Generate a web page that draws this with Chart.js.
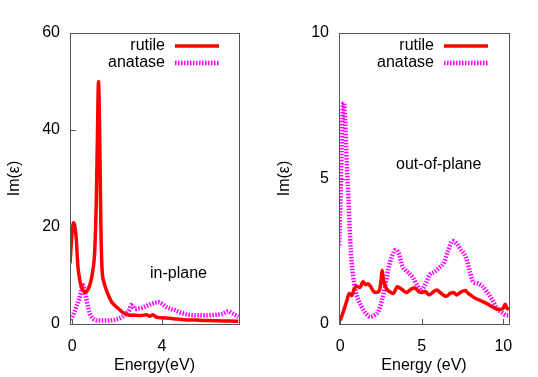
<!DOCTYPE html>
<html>
<head>
<meta charset="utf-8">
<script src="https://cdn.jsdelivr.net/npm/chart.js@4.4.0/dist/chart.umd.min.js"></script>
<style>
  html, body { margin: 0; padding: 0; background: #fff; }
  #wrap { position: relative; width: 538px; height: 377px; }
  .panel { position: absolute; top: 0; height: 377px; }
</style>
</head>
<body>
<div id="wrap">
  <div class="panel" style="left:0;width:270px"><canvas id="inPlane" width="270" height="377"></canvas></div>
  <div class="panel" style="left:270px;width:268px"><canvas id="outPlane" width="268" height="377"></canvas></div>
</div>
<script>
// in-plane panel
var inRutileE = [-0.1, -0.05, 0, 0.05, 0.1, 0.18, 0.25, 0.32, 0.4, 0.5, 0.58, 0.68, 0.8, 0.9, 1.0, 1.07, 1.12, 1.17, 1.22, 1.27, 1.32, 1.42, 1.52, 1.65, 1.75, 1.9, 2.05, 2.25, 2.5, 2.8, 3.1, 3.3, 3.45, 3.6, 3.75, 4.0, 4.5, 5.0, 5.5, 6.0, 6.5, 7.0, 7.4];
var inRutile  = [12.5, 16, 19.5, 20.9, 20.5, 17.5, 12, 9.5, 7.7, 6.8, 6.5, 7, 8.3, 10.5, 15, 25, 38, 50, 40, 22, 12, 8.5, 7, 5.5, 4.6, 3.8, 3.2, 2.4, 1.85, 1.8, 1.75, 1.9, 1.6, 1.9, 1.4, 1.3, 1.1, 0.9, 0.8, 0.7, 0.65, 0.6, 0.55];
var inAnataseE = [-0.1, 0, 0.1, 0.2, 0.3, 0.4, 0.47, 0.52, 0.6, 0.66, 0.72, 0.8, 0.9, 1.0, 1.2, 1.5, 1.8, 2.0, 2.2, 2.4, 2.55, 2.62, 2.7, 2.8, 2.95, 3.1, 3.3, 3.5, 3.7, 3.85, 4.0, 4.2, 4.4, 4.6, 4.8, 5.0, 5.2, 5.5, 6.0, 6.4, 6.7, 6.95, 7.1, 7.25, 7.4];
var inAnatase  = [1.0, 1.5, 2.5, 3.8, 5, 6.8, 8, 7.5, 5.8, 4.5, 3.2, 2, 1.3, 0.9, 0.7, 0.7, 0.8, 1.0, 1.4, 2.2, 3.0, 3.9, 3.5, 3.1, 3.2, 3.3, 3.7, 4.1, 4.4, 4.5, 4.2, 3.5, 3.1, 2.8, 2.4, 2.1, 1.9, 1.8, 1.8, 1.9, 2.1, 2.6, 2.3, 1.9, 1.5];
var inXTicks = [0, 4];
var inYTicks = [0, 20, 40, 60];

// out-of-plane panel
var outRutileE = [0, 0.2, 0.4, 0.55, 0.7, 0.85, 1.0, 1.2, 1.4, 1.55, 1.7, 1.85, 2.0, 2.2, 2.4, 2.5, 2.57, 2.65, 2.8, 3.0, 3.25, 3.5, 3.75, 4.05, 4.3, 4.55, 4.8, 5.0, 5.2, 5.45, 5.7, 5.9, 6.2, 6.5, 6.75, 6.95, 7.15, 7.4, 7.65, 7.85, 8.1, 8.4, 8.7, 9.0, 9.3, 9.55, 9.85, 10.0, 10.12, 10.22, 10.35];
var outRutile  = [0.12, 0.45, 0.8, 1.05, 0.98, 1.2, 1.3, 1.25, 1.45, 1.35, 1.38, 1.3, 1.15, 1.08, 1.15, 1.5, 1.85, 1.5, 1.25, 1.12, 1.05, 1.28, 1.2, 1.08, 1.18, 1.25, 1.12, 1.08, 1.12, 1.0, 1.1, 1.17, 1.05, 0.95, 1.05, 1.08, 1.0, 1.1, 1.15, 1.05, 0.95, 0.85, 0.78, 0.7, 0.6, 0.52, 0.5, 0.55, 0.68, 0.55, 0.5];
var outAnataseE = [-0.08, 0, 0.08, 0.15, 0.22, 0.3, 0.4, 0.5, 0.6, 0.7, 0.85, 1.0, 1.3, 1.6, 1.85, 2.1, 2.35, 2.55, 2.75, 2.95, 3.15, 3.4, 3.6, 3.8, 4.0, 4.2, 4.45, 4.7, 4.95, 5.2, 5.5, 5.8, 6.1, 6.35, 6.6, 6.9, 7.15, 7.4, 7.7, 7.95, 8.15, 8.4, 8.7, 9.0, 9.3, 9.6, 9.9, 10.2, 10.35];
var outAnatase  = [2.7, 4.0, 6.0, 7.4, 7.6, 7.0, 5.5, 4.3, 3.0, 2.1, 1.4, 1.0, 0.6, 0.35, 0.25, 0.3, 0.45, 0.8, 1.3, 1.9, 2.3, 2.55, 2.4, 2.0, 1.85, 1.75, 1.6, 1.35, 1.15, 1.35, 1.7, 1.8, 1.95, 2.1, 2.5, 2.85, 2.75, 2.55, 2.3, 1.8, 1.45, 1.4, 1.3, 1.1, 0.85, 0.55, 0.4, 0.3, 0.3];
var outXTicks = [0, 5, 10];
var outYTicks = [0, 5, 10];

Chart.defaults.font.family = "'Liberation Sans', Arial, sans-serif";
Chart.defaults.font.size = 16;
Chart.defaults.color = '#000';

function toPoints(xs, ys) {
    return xs.map(function (x, i) { return { x: x, y: ys[i] }; });
}

// frame + inward tick marks like gnuplot
var frameTicks = {
    id: 'frameTicks',
    afterDraw: function (chart) {
        var ctx = chart.ctx, a = chart.chartArea;
        var sx = chart.scales.x, sy = chart.scales.y;
        ctx.save();
        ctx.strokeStyle = '#555';
        ctx.lineWidth = 1;
        ctx.strokeRect(Math.round(a.left) + 0.5, Math.round(a.top) + 0.5, Math.round(a.right - a.left), Math.round(a.bottom - a.top));
        ctx.beginPath();
        sx.ticks.forEach(function (t) {
            var px = Math.round(sx.getPixelForValue(t.value)) + 0.5;
            ctx.moveTo(px, a.bottom);
            ctx.lineTo(px, a.bottom - 5);
        });
        sy.ticks.forEach(function (t) {
            var py = Math.round(sy.getPixelForValue(t.value)) + 0.5;
            ctx.moveTo(a.left, py);
            ctx.lineTo(a.left + 6, py);
        });
        ctx.stroke();
        ctx.restore();
    }
};

// key in the top right corner + panel caption
var keyAndLabel = {
    id: 'keyAndLabel',
    afterDraw: function (chart, args, opts) {
        var ctx = chart.ctx;
        ctx.save();
        ctx.font = "16px 'Liberation Sans', Arial, sans-serif";
        ctx.fillStyle = '#000';
        ctx.textBaseline = 'middle';
        chart.data.datasets.forEach(function (ds, i) {
            var y = opts.top + i * opts.rowGap;
            ctx.textAlign = 'right';
            ctx.fillText(ds.label, opts.textRight, y);
            ctx.strokeStyle = ds.borderColor;
            ctx.lineWidth = ds.borderWidth;
            ctx.setLineDash(ds.borderDash || []);
            ctx.beginPath();
            ctx.moveTo(opts.lineLeft, y);
            ctx.lineTo(opts.lineRight, y);
            ctx.stroke();
        });
        ctx.setLineDash([]);
        ctx.textAlign = 'left';
        ctx.fillText(opts.caption, opts.captionX, opts.captionY);
        ctx.restore();
    }
};

function makePanel(id, rutile, anatase, xMin, xMax, yMax, xTicks, yTicks, xTitle, axisWidth, padRight, key) {
    return new Chart(id, {
        type: 'line',
        data: {
            datasets: [
                {
                    label: 'rutile',
                    data: rutile,
                    borderColor: '#ff0000',
                    borderWidth: 3.5,
                    pointRadius: 0,
                    cubicInterpolationMode: 'monotone'
                },
                {
                    label: 'anatase',
                    data: anatase,
                    borderColor: '#ff00ff',
                    borderWidth: 4.5,
                    borderDash: [1.5, 1.5],
                    pointRadius: 0,
                    cubicInterpolationMode: 'monotone'
                }
            ]
        },
        options: {
            responsive: false,
            animation: false,
            layout: { padding: { top: 33, right: padRight, left: 0, bottom: 0 } },
            plugins: {
                legend: { display: false },
                tooltip: { enabled: false },
                keyAndLabel: key
            },
            scales: {
                x: {
                    type: 'linear',
                    min: xMin,
                    max: xMax,
                    grid: { display: false },
                    border: { display: false },
                    ticks: { padding: 5, maxRotation: 0 },
                    afterBuildTicks: function (scale) {
                        scale.ticks = xTicks.map(function (v) { return { value: v }; });
                    },
                    afterFit: function (scale) { scale.height = 53; },
                    title: { display: true, text: xTitle, padding: { top: 0, bottom: 2 } }
                },
                y: {
                    type: 'linear',
                    min: 0,
                    max: yMax,
                    grid: { display: false },
                    border: { display: false },
                    ticks: { padding: 2 },
                    afterBuildTicks: function (scale) {
                        scale.ticks = yTicks.map(function (v) { return { value: v }; });
                    },
                    afterFit: function (scale) { scale.width = axisWidth; },
                    title: { display: true, text: 'Im(\u03b5)', padding: { top: 5, bottom: 0 } }
                }
            }
        },
        plugins: [frameTicks, keyAndLabel]
    });
}

makePanel('inPlane',
    toPoints(inRutileE, inRutile), toPoints(inAnataseE, inAnatase),
    -0.1, 7.43, 60, inXTicks, inYTicks, 'Energy(eV)', 70, 31,
    { top: 46, rowGap: 17, textRight: 165, lineLeft: 175, lineRight: 219, caption: 'in-plane', captionX: 150, captionY: 274 });

makePanel('outPlane',
    toPoints(outRutileE, outRutile), toPoints(outAnataseE, outAnatase),
    -0.08, 10.35, 10, outXTicks, outYTicks, 'Energy (eV)', 69, 29,
    { top: 46, rowGap: 17, textRight: 164, lineLeft: 174, lineRight: 218, caption: 'out-of-plane', captionX: 126, captionY: 165 });
</script>
</body>
</html>
